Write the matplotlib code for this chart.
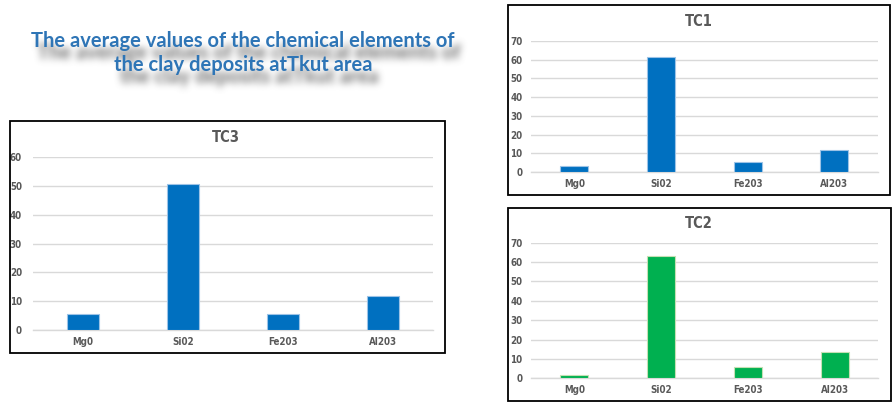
import matplotlib
matplotlib.use("Agg")
import matplotlib.pyplot as plt
from matplotlib.patches import Rectangle
import numpy as np

categories = ['Mg0', 'Si02', 'Fe203', 'Al203']
tc1_values = [3.4, 61.6, 5.2, 11.8]
tc2_values = [1.9, 63.1, 6.0, 13.8]
tc3_values = [5.5, 50.5, 5.5, 11.8]
tc1_ticks = [0, 10, 20, 30, 40, 50, 60, 70]
tc2_ticks = [0, 10, 20, 30, 40, 50, 60, 70]
tc3_ticks = [0, 10, 20, 30, 40, 50, 60]
main_title = "The average values of the chemical elements of\nthe clay deposits atTkut area"

W, H = 895, 405
fig = plt.figure(figsize=(W / 100, H / 100), dpi=100)
fig.patch.set_facecolor('white')

NARROW = ['DejaVu Sans']
GREY = '#595959'
TITLE_FONT = ['Lato', 'DejaVu Sans']


def px_rect(x0, y0, x1, y1):
    return [x0 / W, 1 - y1 / H, (x1 - x0) / W, (y1 - y0) / H]


def frame(x0, y0, x1, y1):
    fig.patches.append(Rectangle((x0 / W, 1 - y1 / H), (x1 - x0) / W, (y1 - y0) / H,
                                 transform=fig.transFigure, fill=False,
                                 edgecolor='black', linewidth=1.3, zorder=0))


def panel(rect, values, ticks, color, edge, title, title_xy, ypad):
    ax = fig.add_axes(rect)
    x = np.arange(len(categories))
    ax.bar(x, values, width=0.32, color=color, edgecolor=edge, linewidth=0.8, zorder=3)
    ax.set_xlim(-0.5, len(categories) - 0.5)
    ax.set_ylim(0, ticks[-1])
    ax.set_yticks(ticks)
    ax.set_xticks(x)
    ax.set_xticklabels(categories)
    ax.yaxis.grid(True, color='#D9D9D9', linewidth=1.0, zorder=0)
    ax.set_axisbelow(True)
    for s in ['top', 'right', 'left']:
        ax.spines[s].set_visible(False)
    ax.spines['bottom'].set_color('#D9D9D9')
    ax.spines['bottom'].set_linewidth(1.0)
    ax.tick_params(axis='both', length=0, colors=GREY)
    ax.tick_params(axis='y', pad=ypad)
    ax.tick_params(axis='x', pad=5)
    for lab in ax.get_xticklabels() + ax.get_yticklabels():
        lab.set_family(NARROW)
        lab.set_fontstretch('condensed')
        lab.set_fontweight('bold')
        lab.set_fontsize(7)
        lab.set_color(GREY)
    fig.text(title_xy[0] / W, 1 - title_xy[1] / H, title, ha='center', va='center',
             family=NARROW, fontstretch='condensed', fontweight='bold',
             fontsize=10.5, color=GREY)
    return ax


# frames
frame(10, 121, 445, 353)
frame(508, 5, 890, 195)
frame(508, 208, 891, 401)

panel(px_rect(33, 156.7, 433, 330.3), tc3_values, tc3_ticks, '#0070C0', '#9DC3E6',
      'TC3', (226, 137), 8)
panel(px_rect(531, 41, 877.7, 172), tc1_values, tc1_ticks, '#0070C0', '#9DC3E6',
      'TC1', (699, 21), 6)
panel(px_rect(531, 242.7, 878, 378.3), tc2_values, tc2_ticks, '#00B050', '#C5E0B4',
      'TC2', (699, 224), 6)

tx, ty = 243 / W, 1 - 53 / H
title_kw = dict(ha='center', va='center', fontsize=14.5, fontweight='bold',
                family=TITLE_FONT, linespacing=1.2)

# soft blurred shadow of the title, rendered as an image (not text)
sfig = plt.figure(figsize=(W / 100, H / 100), dpi=100)
sfig.patch.set_facecolor('white')
sfig.text(tx + 6 / W, ty - 12 / H, main_title, color='black', **title_kw)
sfig.canvas.draw()
buf = np.asarray(sfig.canvas.buffer_rgba())[:, :, 0].astype(float)
plt.close(sfig)
dark = 1.0 - buf / 255.0
k = 7
kernel = np.ones(k) / k
for _ in range(3):
    dark = np.apply_along_axis(lambda r: np.convolve(r, kernel, mode='same'), 1, dark)
    dark = np.apply_along_axis(lambda c: np.convolve(c, kernel, mode='same'), 0, dark)
alpha = np.clip(dark * 1.1, 0, 1)
shadow = np.zeros((alpha.shape[0], alpha.shape[1], 4))
shadow[:, :, :3] = 0.5
shadow[:, :, 3] = alpha
fig.figimage(shadow, xo=0, yo=0, origin='upper', zorder=1)

fig.text(tx, ty, main_title, color='#2E75B6', zorder=5, **title_kw)

fig.savefig('out.png', dpi=100, facecolor='white')
